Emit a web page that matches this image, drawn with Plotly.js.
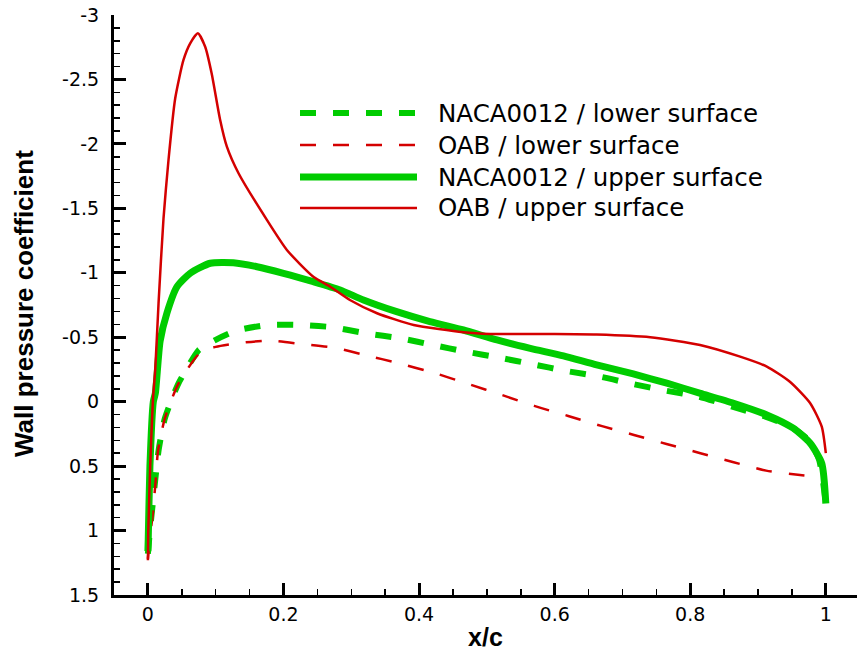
<!DOCTYPE html>
<html>
<head>
<meta charset="utf-8">
<script src="https://cdn.plot.ly/plotly-3.0.1.min.js"></script>
<style>html,body{margin:0;padding:0;background:#fff;}#chart{width:857px;height:652px;}</style>
</head>
<body>
<div id="chart"></div>
<script>
// ---- data ----
const nacaLowerX = [0, 0.003, 0.007, 0.011, 0.016, 0.025, 0.044, 0.06, 0.075, 0.1, 0.13, 0.176, 0.225, 0.273, 0.322, 0.372, 0.42, 0.469, 0.519, 0.568, 0.617, 0.667, 0.715, 0.764, 0.813, 0.862, 0.911, 0.95, 0.975, 0.99, 1.0];
const nacaLowerCp = [1.18, 1.0, 0.8, 0.6, 0.37, 0.13, -0.13, -0.28, -0.40, -0.48, -0.55, -0.595, -0.595, -0.577, -0.53, -0.492, -0.44, -0.388, -0.341, -0.29, -0.238, -0.194, -0.137, -0.085, -0.039, 0.039, 0.116, 0.2, 0.3, 0.45, 0.79];

const oabLowerX = [0, 0.003, 0.007, 0.011, 0.015, 0.025, 0.045, 0.077, 0.1, 0.135, 0.18, 0.226, 0.276, 0.32, 0.37, 0.424, 0.473, 0.522, 0.57, 0.62, 0.67, 0.717, 0.765, 0.815, 0.864, 0.912, 0.962, 0.99];
const oabLowerCp = [1.22, 1.05, 0.88, 0.64, 0.38, 0.13, -0.14, -0.38, -0.425, -0.455, -0.473, -0.448, -0.418, -0.362, -0.298, -0.22, -0.137, -0.052, 0.033, 0.111, 0.19, 0.258, 0.328, 0.40, 0.47, 0.535, 0.569, 0.58];

const nacaUpperX = [0, 0.0005, 0.003, 0.008, 0.011, 0.018, 0.028, 0.043, 0.0624, 0.092, 0.126, 0.161, 0.2, 0.244, 0.2836, 0.318, 0.367, 0.416, 0.4655, 0.515, 0.564, 0.613, 0.662, 0.716, 0.7655, 0.815, 0.864, 0.913, 0.952, 0.977, 0.994, 1.0];
const nacaUpperCp = [1.16, 1.07, 0.5, 0.0, -0.065, -0.47, -0.686, -0.892, -0.996, -1.074, -1.078, -1.047, -0.996, -0.931, -0.867, -0.789, -0.698, -0.621, -0.556, -0.479, -0.414, -0.355, -0.285, -0.215, -0.143, -0.065, 0.012, 0.103, 0.206, 0.323, 0.478, 0.79];

const oabUpperX = [0, 0.0005, 0.0034, 0.0074, 0.0108, 0.0157, 0.023, 0.0304, 0.0403, 0.0525, 0.0624, 0.0737, 0.0845, 0.094, 0.1066, 0.1165, 0.1337, 0.1755, 0.205, 0.244, 0.269, 0.298, 0.338, 0.392, 0.4655, 0.505, 0.6, 0.662, 0.741, 0.8145, 0.8736, 0.913, 0.947, 0.977, 0.994, 1.0];
const oabUpperCp = [1.23, 1.02, 0.50, -0.013, -0.246, -0.763, -1.42, -1.875, -2.354, -2.651, -2.78, -2.858, -2.754, -2.548, -2.185, -1.978, -1.772, -1.41, -1.177, -0.970, -0.892, -0.789, -0.686, -0.595, -0.538, -0.525, -0.525, -0.521, -0.50, -0.44, -0.349, -0.272, -0.155, 0.012, 0.194, 0.40];

const seriesNames = ['NACA0012 / lower surface', 'OAB / lower surface', 'NACA0012 / upper surface', 'OAB / upper surface'];

const xTickVals = [0, 0.2, 0.4, 0.6, 0.8, 1];
const xTickText = ['0', '0.2', '0.4', '0.6', '0.8', '1'];
const yTickVals = [-3, -2.5, -2, -1.5, -1, -0.5, 0, 0.5, 1, 1.5];
const yTickText = ['-3', '-2.5', '-2', '-1.5', '-1', '-0.5', '0', '0.5', '1', '1.5'];

const xTitle = 'x/c';
const yTitle = 'Wall pressure coefficient';

// ---- styles ----
const GREEN = '#00CC00';
const RED = '#D40000';
const styles = [
  {color: GREEN, width: 6, dash: '16px,17px'},
  {color: RED, width: 2.5, dash: '16px,17px'},
  {color: GREEN, width: 7, dash: 'solid'},
  {color: RED, width: 2.5, dash: 'solid'}
];
const xs = [nacaLowerX, oabLowerX, nacaUpperX, oabUpperX];
const ys = [nacaLowerCp, oabLowerCp, nacaUpperCp, oabUpperCp];

const traces = xs.map((x, i) => ({
  x: x, y: ys[i], type: 'scatter', mode: 'lines', name: seriesNames[i],
  line: {color: styles[i].color, width: styles[i].width, dash: styles[i].dash, shape: 'spline', smoothing: 0.6},
  showlegend: false, hoverinfo: 'skip'
}));

const FONT = 'DejaVu Sans, Liberation Sans, Arial, sans-serif';
const TFONT = 'Liberation Sans, Arial, sans-serif';
const M = {l: 114, r: 0, t: 15, b: 57};
const PW = 857 - M.l - M.r, PH = 652 - M.t - M.b;
const pxX = p => (p - M.l) / PW;
const pxY = p => 1 - (p - M.t) / PH;

// custom legend (long line samples as in the reference)
const legendRows = [113, 145, 177, 208];
const shapes = [];
const annotations = [];
legendRows.forEach((yy, i) => {
  shapes.push({type: 'line', xref: 'paper', yref: 'paper', x0: pxX(300), x1: pxX(417), y0: pxY(yy), y1: pxY(yy),
    line: {color: styles[i].color, width: styles[i].width, dash: styles[i].dash}});
  annotations.push({xref: 'paper', yref: 'paper', x: pxX(436), y: pxY(yy), xanchor: 'left', yanchor: 'middle',
    text: seriesNames[i], showarrow: false, font: {family: FONT, size: 24.5, color: '#000'}});
});
// y-axis title placed as in the reference
annotations.push({xref: 'paper', yref: 'paper', x: pxX(24), y: pxY(304), xanchor: 'center', yanchor: 'middle',
  text: yTitle, textangle: -90, showarrow: false, font: {family: TFONT, size: 26, color: '#000', weight: 'bold'}});

const layout = {
  width: 857, height: 652,
  margin: M,
  paper_bgcolor: '#fff', plot_bgcolor: '#fff',
  showlegend: false,
  xaxis: {
    range: [-0.05, 1.046], showgrid: false, zeroline: false,
    showline: true, linecolor: '#000', linewidth: 3,
    tickmode: 'array', tickvals: xTickVals, ticktext: xTickText,
    ticks: 'inside', ticklen: 12, tickwidth: 3, tickcolor: '#000',
    tickfont: {family: FONT, size: 19, color: '#000'},
    ticklabelstandoff: 0,
    minor: {tickmode: 'linear', tick0: 0, dtick: 0.05, ticks: 'inside', ticklen: 6, tickwidth: 1.5, tickcolor: '#000', showgrid: false},
    title: {text: xTitle, font: {family: TFONT, size: 25, color: '#000', weight: 'bold'}, standoff: 5}
  },
  yaxis: {
    range: [1.5, -3], showgrid: false, zeroline: false,
    showline: true, linecolor: '#000', linewidth: 3,
    tickmode: 'array', tickvals: yTickVals, ticktext: yTickText,
    ticks: 'inside', ticklen: 12, tickwidth: 3, tickcolor: '#000',
    tickfont: {family: FONT, size: 19, color: '#000'},
    ticklabelstandoff: 8,
    minor: {tickmode: 'linear', tick0: 0, dtick: 0.1, ticks: 'inside', ticklen: 6, tickwidth: 1.5, tickcolor: '#000', showgrid: false}
  },
  shapes: shapes,
  annotations: annotations
};

Plotly.newPlot('chart', traces, layout, {staticPlot: true, displayModeBar: false});
</script>
</body>
</html>
